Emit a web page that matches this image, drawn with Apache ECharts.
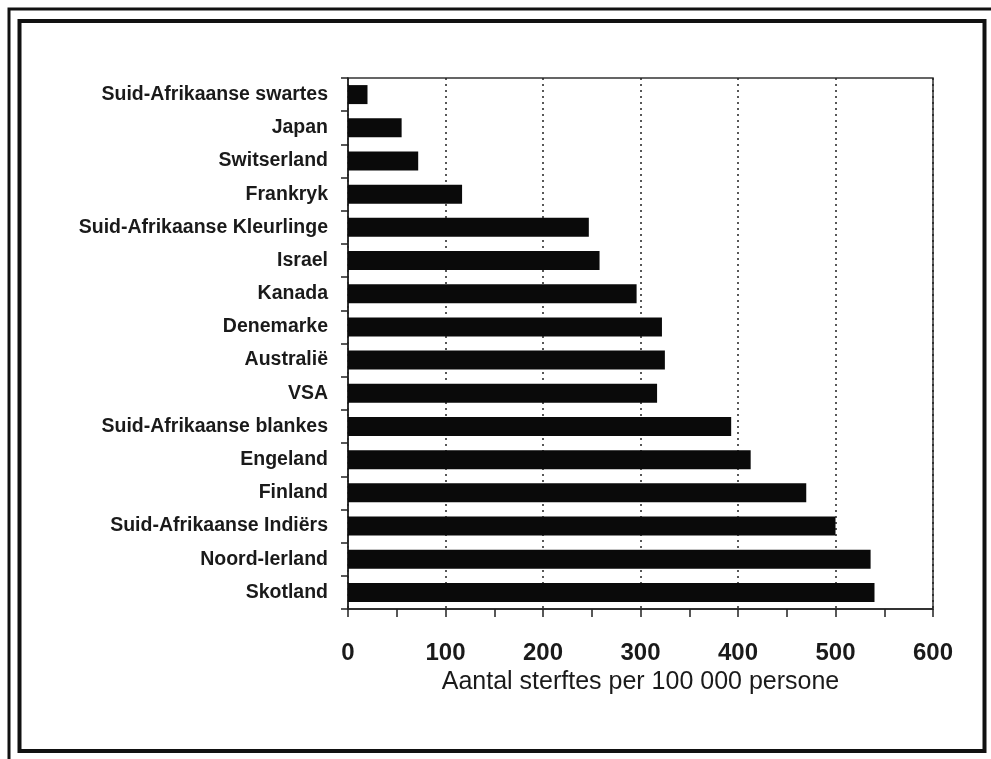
<!DOCTYPE html>
<html>
<head>
<meta charset="utf-8">
<script src="https://cdn.jsdelivr.net/npm/echarts@6/dist/echarts.min.js"></script>
<style>
  html, body { margin: 0; padding: 0; background: #ffffff; }
  #chart { width: 991px; height: 759px; }
</style>
</head>
<body>
<div id="chart"></div>
<script>
// Sterftes per 100 000 persone, van bo na onder soos in die grafiek
const categories = [
  'Suid-Afrikaanse swartes',
  'Japan',
  'Switserland',
  'Frankryk',
  'Suid-Afrikaanse Kleurlinge',
  'Israel',
  'Kanada',
  'Denemarke',
  'Australië',
  'VSA',
  'Suid-Afrikaanse blankes',
  'Engeland',
  'Finland',
  'Suid-Afrikaanse Indiërs',
  'Noord-Ierland',
  'Skotland'
];
const deaths = [20, 55, 72, 117, 247, 258, 296, 322, 325, 317, 393, 413, 470, 500, 536, 540];

const xTicks = [0, 100, 200, 300, 400, 500, 600];
const xTitle = 'Aantal sterftes per 100 000 persone';

const chart = echarts.init(document.getElementById('chart'), null, { renderer: 'canvas' });

const option = {
  backgroundColor: '#ffffff',
  animation: false,
  textStyle: { fontFamily: '"Liberation Sans", Arial, sans-serif' },
  graphic: [
    // dubbele raam rondom die grafiek
    { type: 'rect', shape: { x: 9, y: 9, width: 990, height: 760 },
      style: { fill: 'none', stroke: '#111', lineWidth: 3 } },
    { type: 'rect', shape: { x: 19.5, y: 21, width: 965, height: 730 },
      style: { fill: 'none', stroke: '#111', lineWidth: 4 } }
  ],
  grid: {
    left: 348, right: 58, top: 78, bottom: 150,
    show: true, borderColor: '#333', borderWidth: 1.5, backgroundColor: 'transparent'
  },
  xAxis: {
    type: 'value',
    min: xTicks[0],
    max: xTicks[xTicks.length - 1],
    interval: 100,
    name: xTitle,
    nameLocation: 'middle',
    nameGap: 61,
    nameTextStyle: { fontSize: 25, color: '#1a1a1a', fontFamily: '"Liberation Sans", Arial, sans-serif' },
    axisLine: { show: true, lineStyle: { color: '#222', width: 1.5 } },
    axisTick: { show: true, length: 8, lineStyle: { color: '#222', width: 1.5 } },
    minorTick: { show: true, splitNumber: 2, length: 8, lineStyle: { color: '#222', width: 1.5 } },
    axisLabel: {
      margin: 32, fontSize: 24, fontWeight: 'bold', color: '#1a1a1a',
      formatter: v => xTicks.includes(v) ? String(v) : ''
    },
    splitLine: { show: true, lineStyle: { color: '#222', width: 1.5, type: [2, 4] } }
  },
  yAxis: {
    type: 'category',
    data: categories,
    inverse: true,
    axisLine: { show: true, lineStyle: { color: '#222', width: 1.5 } },
    axisTick: { show: true, length: 7, lineStyle: { color: '#222', width: 1.5 } },
    axisLabel: { margin: 20, fontSize: 19.5, fontWeight: 'bold', color: '#1a1a1a' },
    splitLine: { show: false }
  },
  series: [{
    type: 'bar',
    data: deaths,
    barWidth: 19,
    itemStyle: { color: '#0a0a0a' }
  }]
};

chart.setOption(option);
</script>
</body>
</html>
